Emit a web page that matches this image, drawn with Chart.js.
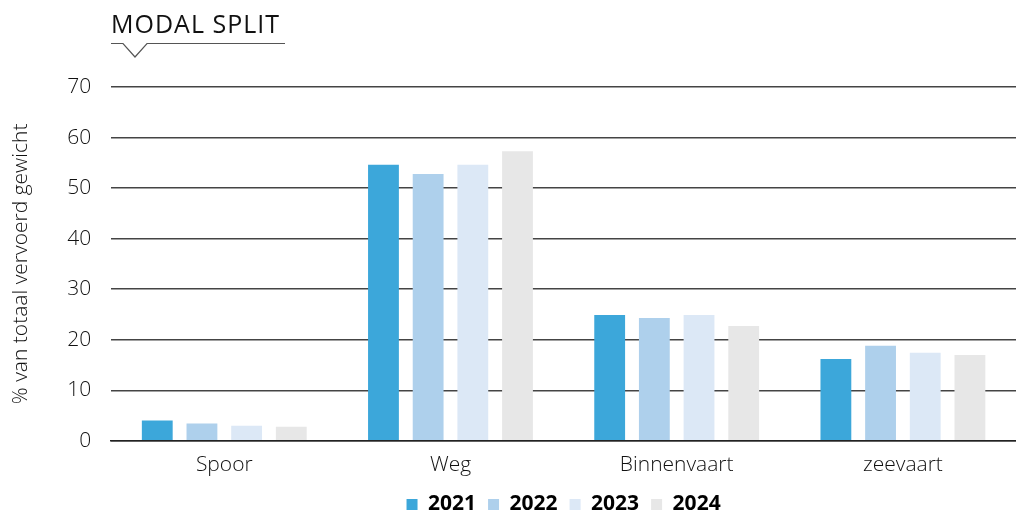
<!DOCTYPE html>
<html><head><meta charset="utf-8">
<script src="https://cdn.jsdelivr.net/npm/chart.js@4/dist/chart.umd.min.js"></script>
<style>
html,body{margin:0;padding:0;background:#fff;overflow:hidden;}
#wrap{position:relative;width:1016px;height:511px;}
#title{position:absolute;left:111px;top:6px;font-family:"Open Sans",sans-serif;font-weight:400;font-size:25px;color:#111;letter-spacing:1px;}
#deco{position:absolute;left:0;top:0;}
</style></head>
<body>
<div id="wrap">
<canvas id="c" width="1016" height="511"></canvas>
<div id="title">MODAL SPLIT</div>
<svg id="deco" width="1016" height="70"><polyline points="111,43.5 123,43.5 135,57 147,43.5 285,43.5" fill="none" stroke="#555" stroke-width="1.2"/></svg>
</div>
<script>
const categories = ["Spoor", "Weg", "Binnenvaart", "zeevaart"];
const years = ["2021", "2022", "2023", "2024"];
const v2021 = [4.0, 54.6, 24.9, 16.2];
const v2022 = [3.4, 52.8, 24.3, 18.8];
const v2023 = [3.0, 54.6, 24.9, 17.4];
const v2024 = [2.8, 57.3, 22.7, 17.0];
const yTicks = [0, 10, 20, 30, 40, 50, 60, 70];
const colors = ["#3ca7da", "#aed0ec", "#dce8f6", "#e7e7e7"];
const series = [v2021, v2022, v2023, v2024];

const font = "'Open Sans', sans-serif";
const legendCenter = {
  id: 'legendCenter',
  afterLayout(chart) {
    const l = chart.legend;
    if (!l) return;
    l.left = chart.chartArea.left;
    l.right = chart.chartArea.right;
    l.width = l.right - l.left;
  }
};
new Chart(document.getElementById('c'), {
  type: 'bar',
  data: {
    labels: categories,
    datasets: series.map((d, i) => ({
      label: years[i], data: d, backgroundColor: colors[i],
      categoryPercentage: 0.79, barPercentage: 0.69
    }))
  },
  plugins: [legendCenter],
  options: {
    responsive: false, animation: false,
    layout: { padding: { top: 87, right: 0, left: 8, bottom: -14 } },
    plugins: {
      legend: {
        position: 'bottom',
        labels: { boxWidth: 11, boxHeight: 11, padding: 12, color: '#000',
          font: { family: font, size: 21, weight: 'bold' } }
      },
      tooltip: { enabled: false }
    },
    scales: {
      x: {
        grid: { display: false },
        border: { color: '#222', width: 1.5 },
        ticks: { color: '#111', font: { family: font, size: 21, weight: 300 }, padding: 4 }
      },
      y: {
        min: 0, max: 70,
        afterBuildTicks: (ax) => { ax.ticks = yTicks.map(v => ({ value: v })); },
        grid: { color: '#444', lineWidth: 1.5, drawTicks: false },
        border: { display: false },
        ticks: { color: '#111', padding: 20, font: { family: font, size: 21, weight: 300 } },
        title: { display: true, text: '% van totaal vervoerd gewicht', color: '#111',
          font: { family: font, size: 21, weight: 300 }, padding: { top: 0, bottom: 14 } }
      }
    }
  }
});
</script>
</body></html>
